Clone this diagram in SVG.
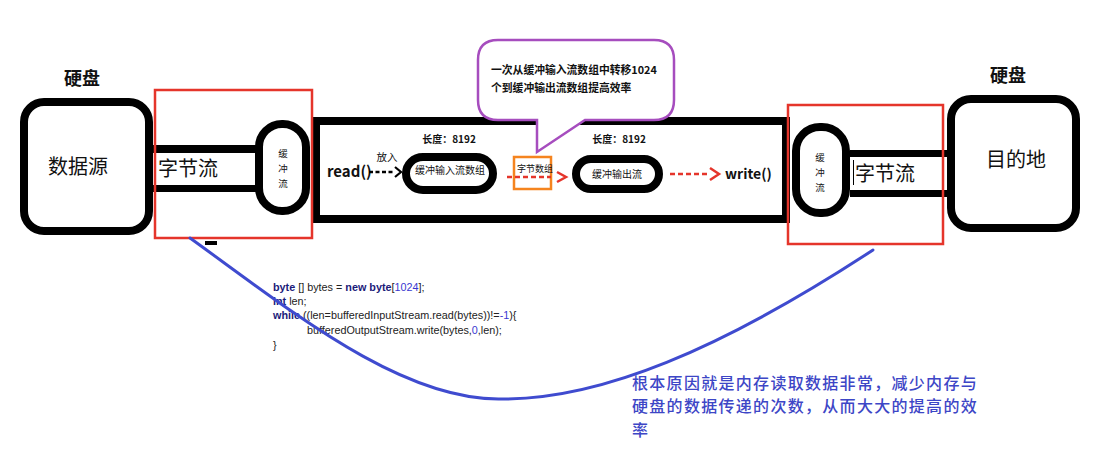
<svg xmlns="http://www.w3.org/2000/svg" width="1098" height="456" viewBox="0 0 1098 456">
<style>
.blk{fill:#fff;stroke:#000;stroke-width:8}
.red{fill:none;stroke:#e5352b;stroke-width:2.5}
.cn{font-family:"Noto Sans CJK SC","Liberation Sans",sans-serif;fill:#111}
.b{font-weight:bold}
.code{font-family:"Liberation Sans","Noto Sans CJK SC",sans-serif;font-size:10.8px;fill:#222}
.kw{font-weight:bold;fill:#1b1b7a}
.num{fill:#3838d0}
.note{font-family:"Noto Sans CJK SC",sans-serif;font-size:16px;fill:#3d46c6;font-weight:500;letter-spacing:1.3px}
.rdash{stroke:#e5352b;stroke-width:2.5;stroke-dasharray:5 3;fill:none}
.rchev{stroke:#e5352b;stroke-width:2.5;fill:none}
</style>
<rect width="1098" height="456" fill="#fff"/>

<g id="memory-box">
<rect class="blk" x="316" y="121" width="470" height="98"/>
<text class="cn b" x="449" y="143" font-size="10" text-anchor="middle">长度：8192</text>
<text class="cn b" x="619" y="143" font-size="10" text-anchor="middle">长度：8192</text>
</g>

<g id="disk-source">
<text class="cn b" x="82" y="85" font-size="18" text-anchor="middle">硬盘</text>
<rect class="blk" x="24" y="102" width="125" height="129" rx="20"/>
<text class="cn" x="78" y="174" font-size="20" text-anchor="middle">数据源</text>
</g>

<g id="byte-stream-left">
<rect x="153" y="145" width="106" height="8" fill="#000"/>
<rect x="153" y="185" width="106" height="7" fill="#000"/>
<text class="cn" x="158" y="176" font-size="20">字节流</text>
</g>

<g id="buffer-left">
<rect class="blk" x="259" y="124" width="47" height="87" rx="23"/>
<text class="cn" x="283" y="157" font-size="9.5" text-anchor="middle">缓</text>
<text class="cn" x="283" y="172" font-size="9.5" text-anchor="middle">冲</text>
<text class="cn" x="283" y="187" font-size="9.5" text-anchor="middle">流</text>
</g>
<rect id="red-box-left" class="red" x="155" y="90" width="157" height="148"/>
<rect x="205" y="241" width="12" height="4" fill="#000"/>

<g id="read">
<text class="cn b" x="327" y="177" font-size="15">read()</text>
<text class="cn" x="387" y="161" font-size="10.5" text-anchor="middle">放入</text>
</g>

<g id="buffer-in-array">
<rect class="blk" x="406" y="157" width="87" height="33" rx="17"/>
<text class="cn" x="450" y="174" font-size="10" text-anchor="middle">缓冲输入流数组</text>
</g>

<g id="byte-array">
<rect x="514" y="157" width="37" height="32" fill="none" stroke="#f5841f" stroke-width="2.5"/>
<text class="cn" x="535" y="172" font-size="9" text-anchor="middle">字节数组</text>
</g>

<g id="buffer-out">
<rect class="blk" x="576" y="159" width="83" height="30" rx="15"/>
<text class="cn" x="617" y="178" font-size="10" text-anchor="middle">缓冲输出流</text>
</g>

<g id="write">
<text class="cn b" x="725" y="179" font-size="14">write()</text>
</g>

<g id="callout">
<path d="M498,40 H654 Q674,40 674,60 V100 Q674,120 654,120 H585 L537,152 V120 H498 Q478,120 478,100 V60 Q478,40 498,40 Z" fill="#fff" stroke="#a64dbe" stroke-width="2.5"/>
<text class="cn b" x="491" y="74" font-size="10.8">一次从缓冲输入流数组中转移1024</text>
<text class="cn b" x="491" y="92" font-size="10.8">个到缓冲输出流数组提高效率</text>
</g>

<g id="buffer-right">
<rect class="blk" x="796" y="127" width="50" height="86" rx="24"/>
<text class="cn" x="820" y="161" font-size="9.5" text-anchor="middle">缓</text>
<text class="cn" x="820" y="176" font-size="9.5" text-anchor="middle">冲</text>
<text class="cn" x="820" y="191" font-size="9.5" text-anchor="middle">流</text>
</g>

<g id="byte-stream-right">
<rect x="850" y="150" width="97" height="7" fill="#000"/>
<rect x="850" y="190" width="97" height="7" fill="#000"/>
<line x1="853.5" y1="160" x2="853.5" y2="185" stroke="#000" stroke-width="1"/>
<text class="cn" x="855" y="181" font-size="20">字节流</text>
</g>
<rect id="red-box-right" class="red" x="788" y="105" width="155" height="139"/>

<g id="disk-dest">
<text class="cn b" x="1008" y="82" font-size="18" text-anchor="middle">硬盘</text>
<rect class="blk" x="951" y="99" width="125" height="129" rx="20"/>
<text class="cn" x="1016" y="167" font-size="20" text-anchor="middle">目的地</text>
</g>

<g id="code">
<text class="code" x="273" y="291"><tspan class="kw">byte</tspan> [] bytes = <tspan class="kw">new</tspan> <tspan class="kw">byte</tspan>[<tspan class="num">1024</tspan>];</text>
<text class="code" x="273" y="305"><tspan class="kw">int</tspan> len;</text>
<text class="code" x="273" y="319"><tspan class="kw">while</tspan> ((len=bufferedInputStream.read(bytes))!=<tspan class="num">-1</tspan>){</text>
<text class="code" x="307" y="334">bufferedOutputStream.write(bytes,<tspan class="num">0</tspan>,len);</text>
<text class="code" x="273" y="349">}</text>
</g>

<g id="note">
<text class="note" x="632" y="389">根本原因就是内存读取数据非常，减少内存与</text>
<text class="note" x="632" y="412">硬盘的数据传递的次数，从而大大的提高的效</text>
<text class="note" x="632" y="436">率</text>
</g>

<g id="connectors">
<line x1="369" y1="172" x2="395" y2="172" stroke="#000" stroke-width="2.5" stroke-dasharray="4 2.5"/>
<path d="M395,167 L401,172 L395,177" fill="none" stroke="#000" stroke-width="2.2"/>
<line class="rdash" x1="507" y1="177" x2="551" y2="177"/>
<path class="rchev" d="M557,172 L566,177 L557,182"/>
<line class="rdash" x1="670" y1="174" x2="709" y2="174"/>
<path class="rchev" d="M710,168 L719,174 L710,180"/>
<path d="M190,238 C290,310 400,400 500,399 C600,400 720,350 873,250" fill="none" stroke="#3f4bcf" stroke-width="3" stroke-linecap="round"/>
</g>
</svg>
